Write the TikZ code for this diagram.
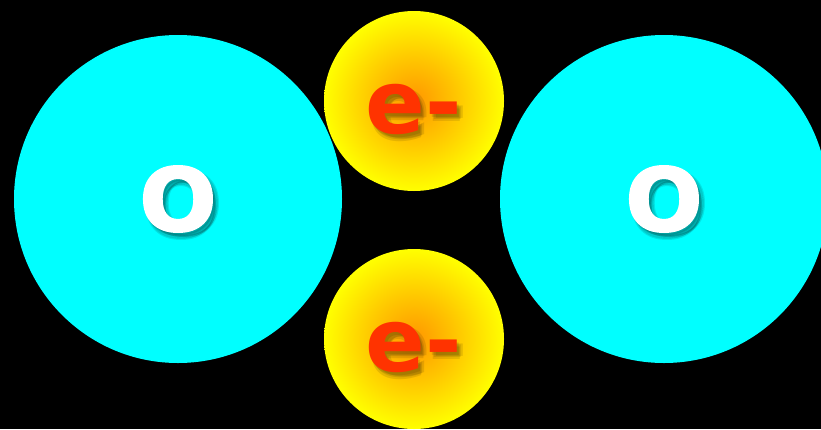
\documentclass[tikz,border=0pt]{standalone}
\usepackage{fontspec}
\setmainfont{DejaVu Sans}
\newfontfamily\atomfont{DejaVu Sans}[BoldFeatures={FakeBold=2.5, FakeStretch=1.04}]
\definecolor{oxygen}{RGB}{0,255,255}
\definecolor{elcore}{RGB}{255,150,0}
\definecolor{elmid}{RGB}{255,195,0}
\definecolor{elrim}{RGB}{255,255,0}
\definecolor{eltext}{RGB}{255,51,0}
\pgfdeclareradialshading{elglow}{\pgfpoint{0bp}{0bp}}{color(0bp)=(elcore); color(11bp)=(elmid); color(25bp)=(elrim); color(50bp)=(elrim)}
\begin{document}
\begin{tikzpicture}[x=1pt, y=-1pt,
    atom/.style={circle, fill=oxygen, minimum size=328pt, inner sep=0pt},
    electron/.style={circle, minimum size=180pt, inner sep=0pt, shading=elglow},
    glyph/.style={font=\fontsize{88}{88}\selectfont\bfseries, inner sep=0pt},
    oglyph/.style={font=\atomfont\fontsize{87}{87}\selectfont\bfseries, inner sep=0pt},
    glow/.style={text=black, opacity=0.1}]
    \useasboundingbox (0,0) rectangle (821,429);
    \clip (0,0) rectangle (821,429);
    \fill[black] (0,0) rectangle (821,429);
    \node[atom] (oxyL) at (178,199) {};
    \node[atom] (oxyR) at (664,199) {};
    \node[electron] (elTop) at (414,101) {};
    \node[electron] (elBot) at (414,339) {};
    % soft shadows under the letters
    \foreach \dx/\dy [count=\i] in {2/3,4/5,6/4,3/7} {
        \node[oglyph, glow] (shL\i) at ([xshift=\dx pt, yshift=-\dy pt]oxyL) {O};
        \node[oglyph, glow] (shR\i) at ([xshift=\dx pt, yshift=-\dy pt]oxyR) {O};
        \node[glyph, glow] (shT\i) at ([xshift=\dx pt, yshift={-8pt-\dy pt}]elTop) {e-};
        \node[glyph, glow] (shB\i) at ([xshift=\dx pt, yshift={-8pt-\dy pt}]elBot) {e-};
    }
    \node[oglyph, text=white] (oL) at (oxyL) {O};
    \node[oglyph, text=white] (oR) at (oxyR) {O};
    \node[glyph, text=eltext] (eT) at ([yshift=-8pt]elTop) {e-};
    \node[glyph, text=eltext] (eB) at ([yshift=-8pt]elBot) {e-};
\end{tikzpicture}
\end{document}
